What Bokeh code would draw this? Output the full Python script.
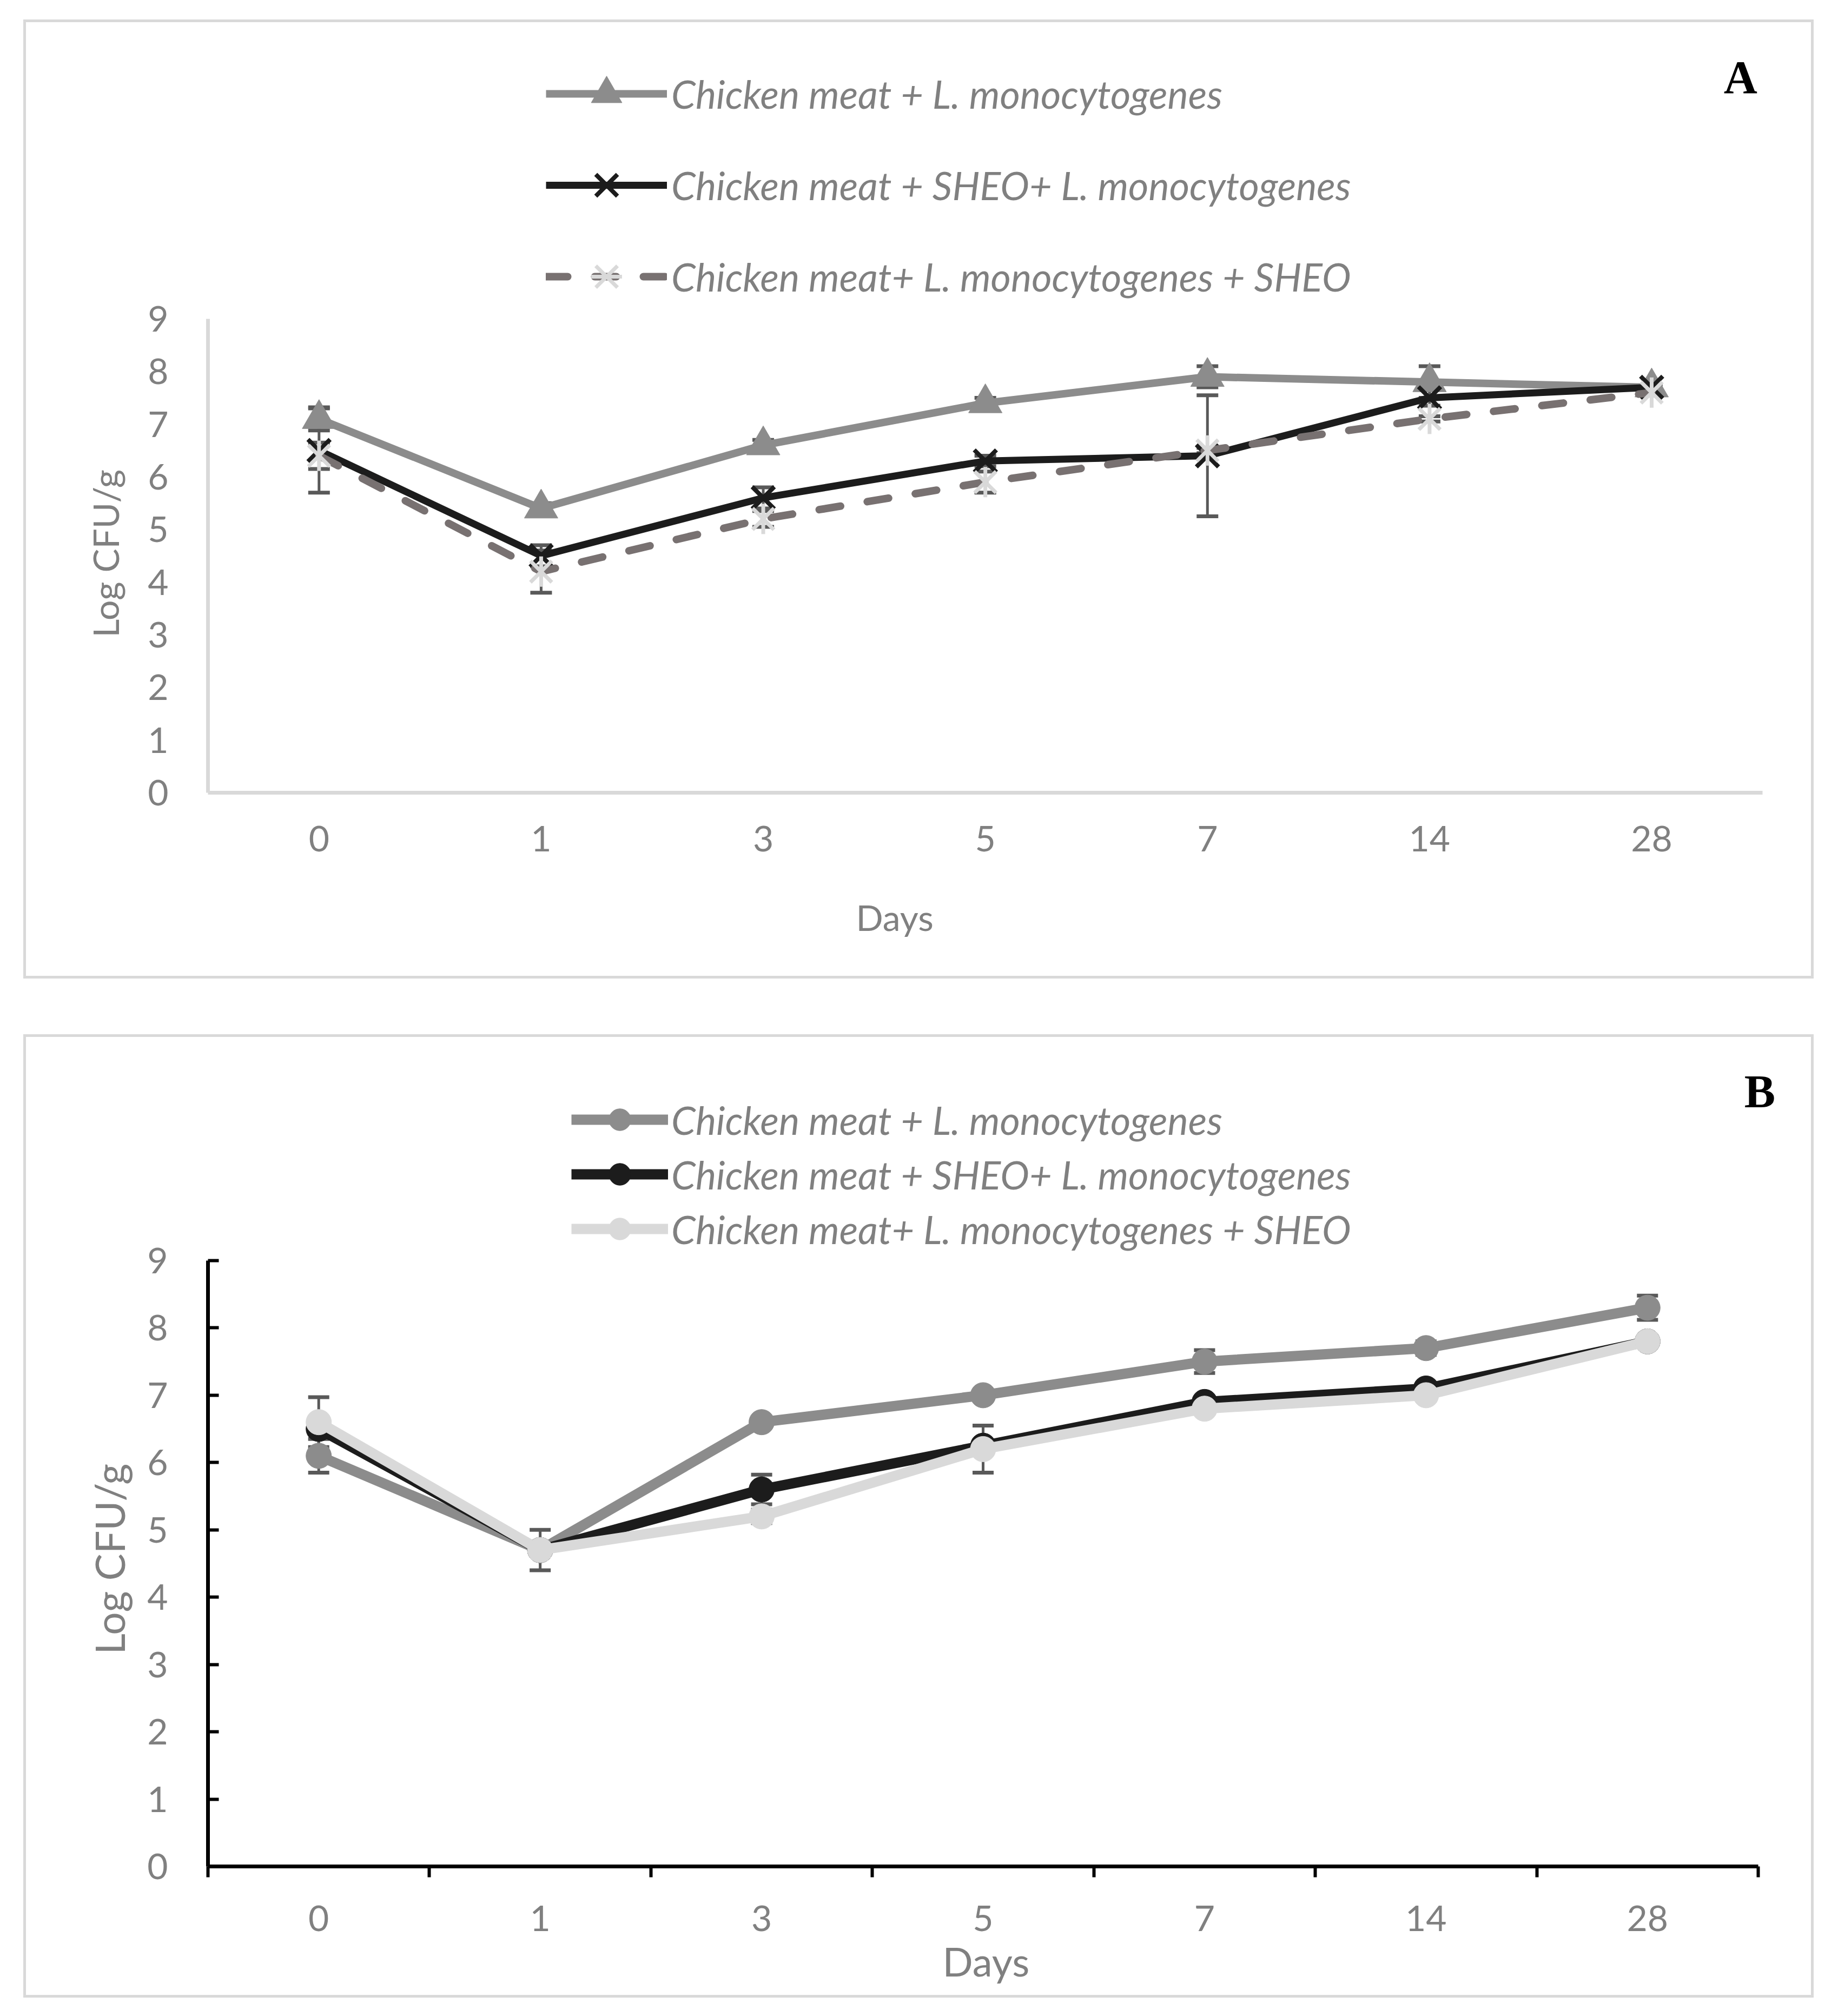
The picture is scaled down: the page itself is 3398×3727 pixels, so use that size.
import numpy as np
from bokeh.plotting import figure
from bokeh.models import (ColumnDataSource, Range1d, FixedTicker, Whisker, TeeHead,
                          Legend, LegendItem, Label, Title)
from bokeh.layouts import column
from bokeh.embed import file_html
from bokeh.resources import INLINE

# ---------------- data ----------------
days = ["0", "1", "3", "5", "7", "14", "28"]
y_ticks = [0, 1, 2, 3, 4, 5, 6, 7, 8, 9]
series_labels = ["Chicken meat + L. monocytogenes",
                 "Chicken meat + SHEO+ L. monocytogenes",
                 "Chicken meat+ L. monocytogenes + SHEO"]

# Panel A
a_ctrl = [7.1, 5.4, 6.6, 7.4, 7.9, 7.8, 7.7]
a_ctrl_err = [0.22, 0.1, 0.1, 0.1, 0.2, 0.3, 0.05]
a_pre = [6.5, 4.5, 5.6, 6.3, 6.4, 7.5, 7.7]
a_pre_err = [0.8, 0.2, 0.2, 0.1, 1.15, 0.15, 0.05]
a_post = [6.4, 4.2, 5.2, 5.9, 6.5, 7.1, 7.6]
a_post_err = [0.25, 0.4, 0.15, 0.2, 0.05, 0.05, 0.05]

# Panel B
b_ctrl = [6.1, 4.7, 6.6, 7.0, 7.5, 7.7, 8.3]
b_ctrl_err = [0.25, 0.3, 0.05, 0.05, 0.17, 0.1, 0.18]
b_pre = [6.5, 4.7, 5.6, 6.25, 6.9, 7.1, 7.8]
b_pre_err = [0.05, 0.05, 0.22, 0.05, 0.05, 0.05, 0.05]
b_post = [6.6, 4.7, 5.2, 6.2, 6.8, 7.0, 7.8]
b_post_err = [0.37, 0.05, 0.1, 0.35, 0.05, 0.05, 0.05]

# ---------------- styling ----------------
FONT = "Lato"
TXT = "#808080"
C_CTRL = "#8c8c8c"
C_PRE = "#1c1c1c"
C_POST_A = "#787171"
C_LIGHT = "#d9d9d9"
C_ERR = "#595959"

xpos = np.arange(len(days)) + 0.5
n_cat = len(days)


def base_fig(width, height, mbl, mbr, mbt, mbb, margin, x_end, y_end):
    p = figure(width=width, height=height, x_range=Range1d(0, x_end), y_range=Range1d(0, y_end),
               output_backend="svg", toolbar_location=None, title=None,
               min_border_left=mbl, min_border_right=mbr, min_border_top=mbt, min_border_bottom=mbb)
    p.margin = margin
    p.styles = {"border": "5px solid #d9d9d9"}
    p.outline_line_color = None
    p.xgrid.visible = False
    p.ygrid.visible = False
    p.background_fill_color = "white"
    p.border_fill_color = "white"
    xa = p.xaxis[0]
    xa.bounds = (0, n_cat)
    xa.ticker = FixedTicker(ticks=list(xpos), minor_ticks=list(range(n_cat + 1)))
    xa.major_label_overrides = {float(v): d for v, d in zip(xpos, days)}
    xa.major_tick_line_color = None
    xa.major_tick_out = 0
    xa.major_tick_in = 0
    xa.major_label_text_font = FONT
    xa.major_label_text_font_size = "66px"
    xa.major_label_text_color = TXT
    ya = p.yaxis[0]
    ya.bounds = (0, 9)
    ya.ticker = FixedTicker(ticks=y_ticks, minor_ticks=[])
    ya.major_label_text_font = FONT
    ya.major_label_text_font_size = "66px"
    ya.major_label_text_color = TXT
    ya.minor_tick_line_color = None
    return p


def add_err(p, y, err, size):
    y = np.array(y)
    e = np.array(err)
    src = ColumnDataSource(dict(base=xpos, upper=y + e, lower=y - e))
    w = Whisker(source=src, base="base", upper="upper", lower="lower", dimension="height",
                line_color=C_ERR, line_width=5,
                upper_head=TeeHead(size=size, line_color=C_ERR, line_width=7),
                lower_head=TeeHead(size=size, line_color=C_ERR, line_width=7))
    w.level = "underlay"
    p.add_layout(w)


def txt_title(text, size, align_offset, standoff):
    return Title(text=text, align="left", offset=align_offset, standoff=standoff,
                 text_font=FONT, text_font_style="normal", text_font_size=size, text_color=TXT)


# ---------------- Panel A ----------------
pA = base_fig(3310, 1773, 326, 10, 0, 349, (36, 0, 0, 43), 2974 / 412.0, 1424 / (876 / 9))
for ax in (pA.xaxis[0], pA.yaxis[0]):
    ax.axis_line_color = C_LIGHT
    ax.axis_line_width = 7
pA.xaxis[0].minor_tick_line_color = None
pA.xaxis[0].major_label_standoff = 57
pA.yaxis[0].major_tick_line_color = None
pA.yaxis[0].major_tick_out = 0
pA.yaxis[0].major_tick_in = 0
pA.yaxis[0].major_label_standoff = 73

add_err(pA, a_ctrl, a_ctrl_err, 40)
add_err(pA, a_pre, a_pre_err, 40)
add_err(pA, a_post, a_post_err, 40)

a1l = pA.line(xpos, a_ctrl, line_color=C_CTRL, line_width=14)
a1m = pA.scatter(xpos, a_ctrl, marker="triangle", size=62, fill_color=C_CTRL, line_color=C_CTRL)
a2l = pA.line(xpos, a_pre, line_color=C_PRE, line_width=13)
a2m = pA.scatter(xpos, a_pre, marker="x", size=58, line_color=C_PRE, line_width=8)
a3l = pA.line(xpos, a_post, line_color=C_POST_A, line_width=14, line_dash="40 50", line_cap="round")
a3m1 = pA.scatter(xpos, a_post, marker="x", size=56, line_color=C_LIGHT, line_width=7)
a3m2 = pA.scatter(xpos, a_post, marker="dash", angle=np.pi / 2, size=56, line_color=C_LIGHT, line_width=7)

legA = Legend(items=[LegendItem(label=series_labels[0], renderers=[a1l, a1m]),
                     LegendItem(label=series_labels[1], renderers=[a2l, a2m]),
                     LegendItem(label=series_labels[2], renderers=[a3l, a3m1, a3m2])],
              location=(625, 883), orientation="vertical",
              glyph_width=224, glyph_height=142, label_height=142, spacing=27,
              padding=0, margin=0, label_standoff=8,
              label_text_font=FONT, label_text_font_style="italic", label_text_font_size="72px",
              label_text_color=TXT, background_fill_alpha=0, border_line_alpha=0)
pA.add_layout(legA)

pA.add_layout(txt_title("Days", "66px", 1198, 155), "below")
pA.add_layout(txt_title("Log CFU/g", "66px", 287, 74), "left")
pA.add_layout(Label(x=6.90, y=13.59, text="A", text_align="center", text_baseline="middle",
                    text_font="Liberation Serif", text_font_style="bold", text_font_size="86px",
                    text_color="black"))

# ---------------- Panel B ----------------
pB = base_fig(3310, 1781, 336, 10, 0, 248, (103, 0, 0, 43), 2964 / (2866 / 7), 1533 / (1120 / 9))
for ax in (pB.xaxis[0], pB.yaxis[0]):
    ax.axis_line_color = "black"
    ax.axis_line_width = 7
xb = pB.xaxis[0]
xb.minor_tick_line_color = "black"
xb.minor_tick_line_width = 6
xb.minor_tick_out = 20
xb.minor_tick_in = 0
xb.major_label_standoff = 52
yb = pB.yaxis[0]
yb.major_tick_line_color = "black"
yb.major_tick_line_width = 6
yb.major_tick_in = 20
yb.major_tick_out = 0
yb.major_label_standoff = 74

add_err(pB, b_ctrl, b_ctrl_err, 39)
add_err(pB, b_pre, b_pre_err, 39)
add_err(pB, b_post, b_post_err, 39)

b1l = pB.line(xpos, b_ctrl, line_color=C_CTRL, line_width=19)
b1m = pB.scatter(xpos, b_ctrl, marker="circle", size=47, fill_color=C_CTRL, line_color=C_CTRL)
b2l = pB.line(xpos, b_pre, line_color=C_PRE, line_width=19)
b2m = pB.scatter(xpos, b_pre, marker="circle", size=47, fill_color=C_PRE, line_color=C_PRE)
b3l = pB.line(xpos, b_post, line_color=C_LIGHT, line_width=19)
b3m = pB.scatter(xpos, b_post, marker="circle", size=47, fill_color=C_LIGHT, line_color=C_LIGHT)

legB = Legend(items=[LegendItem(label=series_labels[0], renderers=[b1l, b1m]),
                     LegendItem(label=series_labels[1], renderers=[b2l, b2m]),
                     LegendItem(label=series_labels[2], renderers=[b3l, b3m])],
              location=(672, 1128), orientation="vertical",
              glyph_width=179, glyph_height=101, label_height=101, spacing=0,
              padding=0, margin=0, label_standoff=6,
              label_text_font=FONT, label_text_font_style="italic", label_text_font_size="72px",
              label_text_color=TXT, background_fill_alpha=0, border_line_alpha=0)
pB.add_layout(legB)

pB.add_layout(txt_title("Days", "74px", 1742 - 384, 12), "below")
pB.add_layout(txt_title("Log CFU/g", "75px", 392, 46), "left")
pB.add_layout(Label(x=7.007, y=11.51, text="B", text_align="center", text_baseline="middle",
                    text_font="Liberation Serif", text_font_style="bold", text_font_size="86px",
                    text_color="black"))

layout = column(pA, pB)
open("out.html", "w").write(file_html(layout, INLINE))
